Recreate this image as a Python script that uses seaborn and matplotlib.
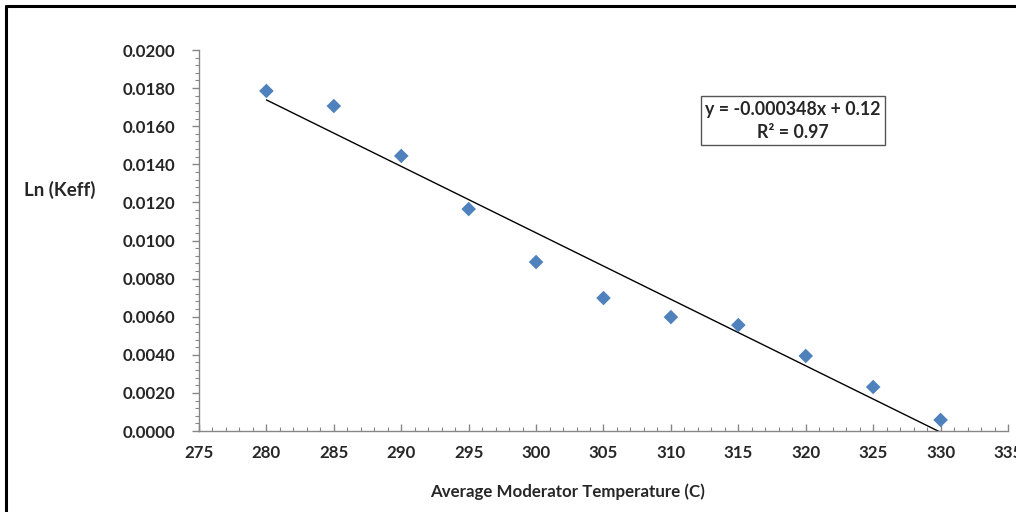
import numpy as np
import pandas as pd
import matplotlib
matplotlib.use("Agg")
import matplotlib.pyplot as plt
from matplotlib.ticker import MultipleLocator, FormatStrFormatter
from matplotlib.lines import Line2D
import seaborn as sns

temperature = [280, 285, 290, 295, 300, 305, 310, 315, 320, 325, 330]
ln_keff = [0.01785, 0.01706, 0.01444, 0.01165, 0.00887, 0.00698,
           0.00598, 0.00556, 0.00394, 0.00231, 0.00058]
equation_text = "y = -0.000348x + 0.12\nR² = 0.97"
x_label = "Average Moderator Temperature (C)"
y_label = "Ln (Keff)"

sns.set_theme(style="white")
plt.rcParams['font.family'] = ['Lato', 'DejaVu Sans']
plt.rcParams['font.weight'] = 'bold'

df = pd.DataFrame({"T": temperature, "lnk": ln_keff})

fig = plt.figure(figsize=(10.16, 5.12), dpi=100)
ax = fig.add_axes([199/1016, 81/512, 809/1016, 381/512])

sns.regplot(data=df, x="T", y="lnk", ax=ax, ci=None, truncate=True,
            marker="D",
            scatter_kws=dict(color="#4F81BD", s=55, edgecolors="none", zorder=3, alpha=1),
            line_kws=dict(color="black", lw=1.0, zorder=2))

ax.set_xlim(275, 335)
ax.set_ylim(0, 0.02)
ax.xaxis.set_major_locator(MultipleLocator(5))
ax.xaxis.set_minor_locator(MultipleLocator(1))
ax.yaxis.set_major_locator(MultipleLocator(0.002))
ax.yaxis.set_minor_locator(MultipleLocator(0.0004))
ax.yaxis.set_major_formatter(FormatStrFormatter("%.4f"))

for s in ["top", "right"]:
    ax.spines[s].set_visible(False)
for s in ["left", "bottom"]:
    ax.spines[s].set_color("#868686")
    ax.spines[s].set_linewidth(1.0)

ax.tick_params(axis="x", which="major", direction="in", length=5, color="#868686",
               width=1, labelsize=12.2, pad=10, bottom=True)
ax.tick_params(axis="x", which="minor", direction="in", length=3, color="#868686",
               width=0.8, bottom=True)
ax.tick_params(axis="y", which="major", direction="out", length=5, color="#868686",
               width=1, labelsize=12.2, pad=12, left=True)
ax.tick_params(axis="y", which="minor", direction="out", length=3, color="#868686",
               width=0.8, left=True)
for lab in ax.get_xticklabels() + ax.get_yticklabels():
    lab.set_fontweight("bold")

ax.set_xlabel("")
ax.set_ylabel("")
fig.text(568/1016, 1 - 492/512, x_label, ha="center", va="center",
         fontsize=12.2, fontweight="bold")
fig.text(60/1016, 1 - 190/512, y_label, ha="center", va="center",
         fontsize=13.5, fontweight="bold")

ax.text(0.734, 0.814, equation_text, transform=ax.transAxes, ha="center", va="center",
        fontsize=12.8, fontweight="bold", multialignment="center", linespacing=1.45,
        bbox=dict(boxstyle="square,pad=0.25", facecolor="white", edgecolor="#555555", lw=1.0))

fig.add_artist(Line2D([6/1016, 1], [1 - 6/512, 1 - 6/512], transform=fig.transFigure,
                      color="black", lw=2.2))
fig.add_artist(Line2D([6/1016, 6/1016], [0, 1 - 6/512], transform=fig.transFigure,
                      color="black", lw=2.2))

fig.savefig("out.png", dpi=100)
